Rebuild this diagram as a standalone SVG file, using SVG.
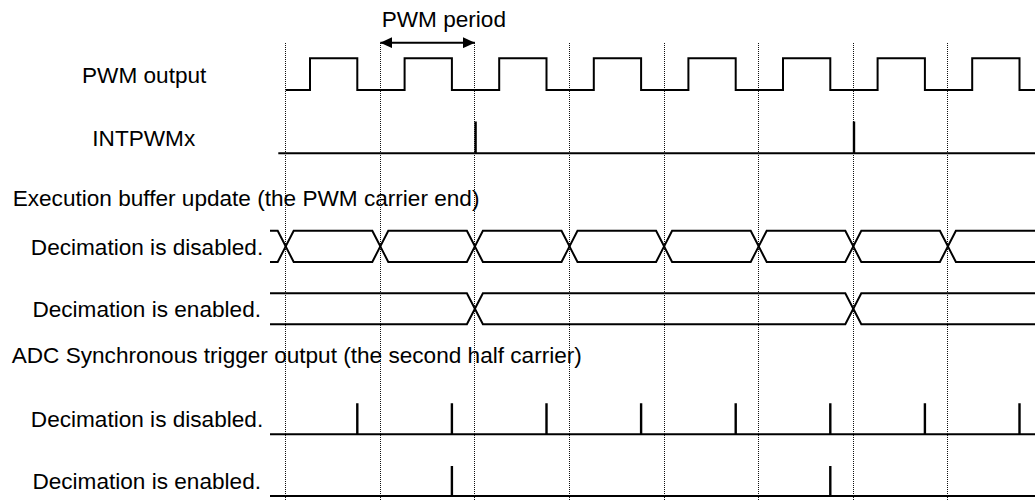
<svg xmlns="http://www.w3.org/2000/svg" width="1035" height="501" viewBox="0 0 1035 501">
<style>
text{font-family:"Liberation Sans",Arial,sans-serif;font-size:22.6px;fill:#000}
.lbl{text-anchor:middle}
.guide{stroke:#111;stroke-width:1;stroke-dasharray:1 1;fill:none}
.wave{stroke:#000;stroke-width:2;fill:none;stroke-linejoin:miter}
.pulse{stroke:#000;stroke-width:2.4;fill:none}
</style>
<defs>
<marker id="ah" viewBox="0 0 12 11" refX="12" refY="5.5" markerWidth="12" markerHeight="11" markerUnits="userSpaceOnUse" orient="auto-start-reverse">
<path d="M0,0 L12,5.5 L0,11 Z" fill="#000"/>
</marker>
</defs>
<rect width="1035" height="501" fill="#fff"/>
<g id="guides">
<line class="guide" x1="285.5" y1="43" x2="285.5" y2="501"/>
<line class="guide" x1="380.5" y1="43" x2="380.5" y2="501"/>
<line class="guide" x1="474.5" y1="43" x2="474.5" y2="501"/>
<line class="guide" x1="569.5" y1="43" x2="569.5" y2="501"/>
<line class="guide" x1="664.5" y1="43" x2="664.5" y2="501"/>
<line class="guide" x1="758.5" y1="43" x2="758.5" y2="501"/>
<line class="guide" x1="853.5" y1="43" x2="853.5" y2="501"/>
<line class="guide" x1="947.5" y1="43" x2="947.5" y2="501"/>
</g>
<g id="headings">
<text x="12.7" y="206">Execution buffer update (the PWM carrier end)</text>
<text x="11.7" y="363.3">ADC Synchronous trigger output (the second half carrier)</text>
</g>
<g id="pwm-output">
<text class="lbl" x="144.2" y="82.7">PWM output</text>
<path class="wave" d="M285.7,90 H310 V58.3 H357.3 V90 H404.6 V58.3 H451.9 V90 H499.2 V58.3 H546.5 V90 H593.8 V58.3 H641.1 V90 H688.4 V58.3 H735.7 V90 H783 V58.3 H830.3 V90 H877.6 V58.3 H924.9 V90 H972.2 V58.3 H1019.5 V90 H1035"/>
</g>
<g id="intpwmx">
<text class="lbl" x="143.8" y="145.7">INTPWMx</text>
<path class="wave" d="M278.3,153.3 H1035"/>
<path class="pulse" d="M475.6,121.5 V153.3 M854,121.5 V153.3"/>
</g>
<g id="buffer-disabled">
<text class="lbl" x="147" y="255">Decimation is disabled.</text>
<path class="wave" d="M270,230.7 H277.7 L285.7,246.35 L277.7,262 H270"/>
<path class="wave" d="M285.7,246.35 L293.7,230.7 H372.3 L380.3,246.35 L372.3,262 H293.7 Z"/>
<path class="wave" d="M380.3,246.35 L388.3,230.7 H466.9 L474.9,246.35 L466.9,262 H388.3 Z"/>
<path class="wave" d="M474.9,246.35 L482.9,230.7 H561.5 L569.5,246.35 L561.5,262 H482.9 Z"/>
<path class="wave" d="M569.5,246.35 L577.5,230.7 H656.1 L664.1,246.35 L656.1,262 H577.5 Z"/>
<path class="wave" d="M664.1,246.35 L672.1,230.7 H750.7 L758.7,246.35 L750.7,262 H672.1 Z"/>
<path class="wave" d="M758.7,246.35 L766.7,230.7 H845.3 L853.3,246.35 L845.3,262 H766.7 Z"/>
<path class="wave" d="M853.3,246.35 L861.3,230.7 H939.9 L947.9,246.35 L939.9,262 H861.3 Z"/>
<path class="wave" d="M1035,230.7 H955.9 L947.9,246.35 L955.9,262 H1035"/>
</g>
<g id="buffer-enabled">
<text class="lbl" x="146.7" y="316.7">Decimation is enabled.</text>
<path class="wave" d="M270,293.3 H466.9 L474.9,308.8 L466.9,324.3 H270"/>
<path class="wave" d="M474.9,308.8 L482.9,293.3 H845.3 L853.3,308.8 L845.3,324.3 H482.9 Z"/>
<path class="wave" d="M1035,293.3 H861.3 L853.3,308.8 L861.3,324.3 H1035"/>
</g>
<g id="adc-disabled">
<text class="lbl" x="147" y="426.7">Decimation is disabled.</text>
<path class="wave" d="M270,434.3 H1035"/>
<path class="pulse" d="M357.3,403.3 V434.3 M451.9,403.3 V434.3 M546.5,403.3 V434.3 M641.1,403.3 V434.3 M735.7,403.3 V434.3 M830.3,403.3 V434.3 M924.9,403.3 V434.3 M1019.5,403.3 V434.3"/>
</g>
<g id="adc-enabled">
<text class="lbl" x="146.7" y="488.5">Decimation is enabled.</text>
<path class="wave" d="M270,496 H1035"/>
<path class="pulse" d="M451.9,466 V496 M830.3,466 V496"/>
</g>
<g id="connectors">
<line x1="380.3" y1="42.7" x2="474.9" y2="42.7" stroke="#000" stroke-width="2" marker-start="url(#ah)" marker-end="url(#ah)"/>
<text x="381.7" y="26.7">PWM period</text>
</g>
</svg>
